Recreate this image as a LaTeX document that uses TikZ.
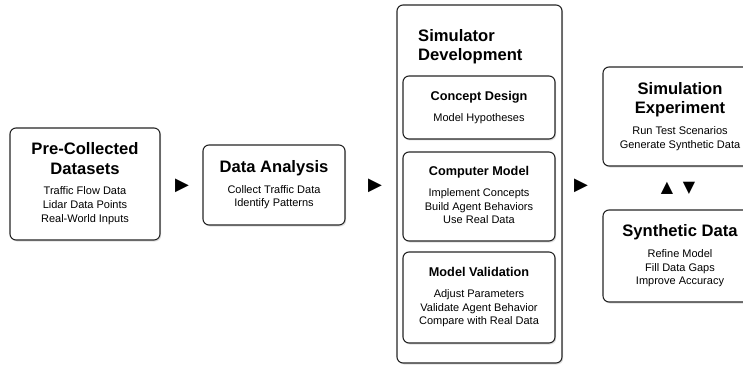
\documentclass[tikz,border=0pt]{standalone}
\usepackage{fontspec}
\setmainfont{Liberation Sans}
\newfontfamily\symfont{DejaVu Sans}
\usetikzlibrary{shadows}
\newcommand{\ttl}{\fontsize{16.6}{19.5}\selectfont\bfseries}
\newcommand{\sttl}{\fontsize{12.7}{15}\selectfont\bfseries}
\newcommand{\bdy}{\fontsize{11}{13.8}\selectfont\mdseries}
\newcommand{\hd}[1]{{\ttl\begin{tabular}{@{}c@{}}#1\end{tabular}}}
\newcommand{\shd}[1]{{\sttl\begin{tabular}{@{}c@{}}#1\end{tabular}}}
\newcommand{\bd}[1]{{\bdy\begin{tabular}{@{}c@{}}#1\end{tabular}}}
\tikzstyle{block} = [rectangle, rounded corners=6pt, draw=black!85, line width=1.1pt, fill=white, align=center, inner sep=0pt, drop shadow={shadow xshift=1.2pt, shadow yshift=-1.5pt, opacity=0.25}]
\tikzstyle{tri} = [inner sep=0pt, font=\symfont\fontsize{18}{18}\selectfont]
\tikzstyle{vtri} = [inner sep=0pt, font=\symfont\fontsize{16}{16}\selectfont]

\begin{document}
\begin{tikzpicture}[x=1pt, y=-1pt]
  \useasboundingbox (0,0) rectangle (743,366);
  \clip (0,0) rectangle (743,366);

  \node (pre) [block, minimum width=150, minimum height=112] at (85,184)
    {\hd{Pre-Collected\\Datasets}\\[4pt]\bd{Traffic Flow Data\\Lidar Data Points\\Real-World Inputs}};
  \node (ana) [block, minimum width=142, minimum height=80] at (274,185)
    {\hd{Data Analysis}\\[4pt]\bd{Collect Traffic Data\\Identify Patterns}};

  % simulator container
  \node (sim) [block, minimum width=165, minimum height=358] at (479.5,184) {};
  \node (simt) [anchor=north west, inner sep=0pt] at (418,27.5)
    {\ttl\begin{tabular}{@{}l@{}}Simulator\\Development\end{tabular}};
  \node (sim1) [block, minimum width=152, minimum height=63] at (479,107.5)
    {\shd{Concept Design}\\[5.5pt]\bd{Model Hypotheses}};
  \node (sim2) [block, minimum width=152, minimum height=89] at (479,196.5)
    {\shd{Computer Model}\\[5.5pt]\bd{Implement Concepts\\Build Agent Behaviors\\Use Real Data}};
  \node (sim3) [block, minimum width=152, minimum height=91] at (479,297.5)
    {\shd{Model Validation}\\[5.5pt]\bd{Adjust Parameters\\Validate Agent Behavior\\Compare with Real Data}};

  \node (exp) [block, minimum width=154, minimum height=99] at (680,116.5)
    {\hd{Simulation\\Experiment}\\[4pt]\bd{Run Test Scenarios\\Generate Synthetic Data}};
  \node (syn) [block, minimum width=154, minimum height=92] at (680,256)
    {\hd{Synthetic Data}\\[4pt]\bd{Refine Model\\Fill Data Gaps\\Improve Accuracy}};

  % step markers
  \node (t1) [tri] at (182,186) {▶};
  \node (t2) [tri] at (375,186) {▶};
  \node (t3) [tri] at (581,186) {▶};
  \node (up) [vtri] at (667,188) {▲};
  \node (dn) [vtri] at (689,188) {▼};
\end{tikzpicture}
\end{document}
